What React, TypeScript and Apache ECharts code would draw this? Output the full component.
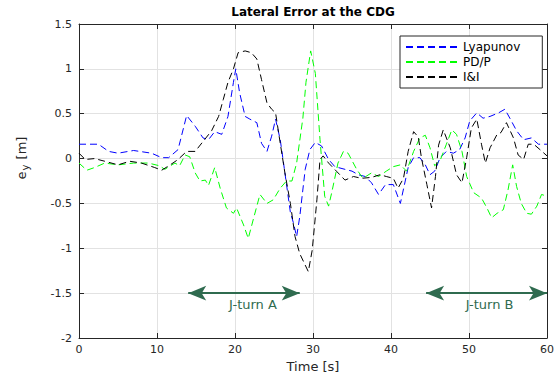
import React, { useEffect, useRef } from "react";
import * as echarts from "echarts";

// ---------- data ----------
const seriesNames = ["Lyapunov", "PD/P", "I&I"];

const lyapunovTime = [0, 1, 2.5, 3.8, 5, 7, 9.3, 10.6, 11.5, 12.7, 13.8, 14.9, 15.9, 16.6, 17.4, 18.3, 19.1, 19.8, 20.1, 20.6, 21.3, 21.9, 22.8, 23.4, 24.1, 24.7, 25.2, 25.8, 26.4, 27.1, 27.5, 27.9, 28.3, 29.0, 29.6, 30.3, 31.1, 32, 32.8, 34.1, 35, 35.8, 36.7, 37.5, 38.4, 39.3, 40.3, 41.2, 42.2, 42.9, 43.7, 44.4, 45, 45.6, 46.3, 47.1, 48, 48.8, 49.5, 50.1, 51, 51.8, 52.7, 53.8, 54.6, 55.3, 56.1, 57, 58, 58.9, 60];
const lyapunovValues = [0.16, 0.16, 0.16, 0.08, 0.06, 0.09, 0.06, 0.01, 0.01, 0.1, 0.48, 0.36, 0.23, 0.21, 0.3, 0.27, 0.47, 0.85, 1.0, 0.73, 0.47, 0.44, 0.40, 0.17, 0.08, 0.25, 0.44, 0.21, -0.16, -0.6, -0.72, -0.87, -0.65, -0.12, 0.1, 0.18, 0.14, -0.01, -0.09, -0.12, -0.14, -0.18, -0.2, -0.27, -0.40, -0.29, -0.29, -0.5, -0.1, 0.01, 0.01, -0.07, -0.18, -0.14, 0.01, 0.08, 0.06, 0.1, 0.23, 0.42, 0.51, 0.45, 0.47, 0.51, 0.55, 0.44, 0.31, 0.21, 0.23, 0.16, 0.16];

const pdpTime = [0, 1, 2, 3.3, 5, 7, 8.9, 10.3, 11, 12.3, 12.9, 13.6, 14.2, 14.9, 15.5, 16.2, 16.6, 17.4, 18.1, 18.9, 19.8, 20.2, 21.1, 21.7, 22.4, 23.2, 24.1, 24.9, 25.8, 26.6, 27.3, 27.9, 28.7, 29.1, 29.7, 30.3, 30.9, 31.5, 32, 32.4, 33.2, 33.9, 34.5, 35.6, 36.4, 37.5, 38.4, 39.4, 40.3, 41.2, 42, 42.9, 43.7, 44.4, 45, 45.6, 46.3, 47.1, 47.8, 48.4, 49.1, 49.7, 50.6, 51.6, 52.3, 52.9, 53.6, 54.4, 55, 55.6, 56.1, 56.7, 57.4, 58, 58.7, 59.3, 60];
const pdpValues = [-0.05, -0.13, -0.1, -0.05, -0.07, -0.05, -0.05, -0.08, -0.12, -0.05, -0.08, 0.04, 0.02, -0.16, -0.25, -0.24, -0.3, -0.1, -0.33, -0.55, -0.61, -0.55, -0.74, -0.89, -0.66, -0.4, -0.5, -0.46, -0.33, -0.25, -0.25, -0.05, 0.45, 0.85, 1.2, 0.95, 0.21, -0.42, -0.53, -0.38, -0.05, 0.08, 0.06, -0.12, -0.22, -0.16, -0.2, -0.14, -0.09, -0.07, -0.14, 0.08, 0.23, 0.26, 0.12, -0.08, -0.02, 0.16, 0.32, 0.27, 0.08, -0.2, -0.38, -0.44, -0.55, -0.66, -0.61, -0.57, -0.35, -0.07, -0.31, -0.5, -0.61, -0.62, -0.53, -0.4, -0.42];

const iiTime = [0, 0.8, 2, 3.3, 5, 6.5, 8, 9.7, 10.6, 11.7, 12.7, 13.8, 14.9, 15.9, 17, 17.9, 18.5, 19.1, 19.8, 20.4, 21.3, 22.1, 22.8, 23.4, 24.1, 24.7, 25.2, 25.8, 26.4, 27.1, 27.7, 28.3, 29.4, 29.9, 30.5, 30.9, 31.3, 32, 33, 34.1, 35.2, 36.2, 37.5, 38.6, 39.4, 40.3, 40.9, 41.6, 42.2, 42.9, 43.5, 43.9, 44.6, 45.2, 45.7, 46.1, 46.7, 47.6, 48.4, 49.1, 49.7, 50.3, 51, 51.6, 52.1, 52.7, 53.6, 54.1, 54.8, 55.7, 56.3, 57, 57.6, 58.3, 59.1, 60];
const iiValues = [0.06, -0.01, 0, -0.03, -0.07, -0.03, -0.05, -0.1, -0.13, -0.07, -0.01, 0.08, 0.08, 0.19, 0.31, 0.47, 0.66, 0.85, 1.0, 1.18, 1.2, 1.18, 1.11, 0.88, 0.62, 0.55, 0.51, 0.17, -0.16, -0.5, -0.87, -1.06, -1.26, -1.02, -0.46, -0.01, 0.03, -0.05, -0.14, -0.24, -0.2, -0.22, -0.21, -0.18, -0.2, -0.22, -0.33, -0.22, 0.08, 0.3, 0.24, 0.01, -0.29, -0.55, -0.2, 0.15, 0.32, 0.12, -0.18, -0.27, 0.01, 0.34, 0.44, 0.16, -0.05, 0.12, 0.27, 0.29, 0.4, 0.23, 0.04, -0.01, 0.16, 0.16, 0.1, 0.03];

const annotationLabels = ["J-turn A", "J-turn B"];
const annotationStart = [14.0, 44.5];
const annotationEnd = [28.3, 60];
const annotationLevel = -1.5;

// ---------- styles ----------
const FONT = "DejaVu Sans";
const AXIS = "#262626";
const GRID = "#e2e2e2";
const ARROW = "#2f6b4f";
const COLORS = ["#0000ff", "#00ff00", "#000000"];
const DASH = [7, 4];
const LABEL_SHIFT = [18, 6];

const pair = (t: number[], v: number[]) => t.map((x, i) => [x, v[i]]);

export default function App() {
  const ref = useRef<HTMLDivElement>(null);

  useEffect(() => {
    if (!ref.current) return;
    const chart = echarts.init(ref.current, null, { renderer: "svg" });

    const baseAxisLine = { show: true, onZero: false, lineStyle: { color: AXIS, width: 1 } };
    const baseTick = { show: true, inside: true, length: 5, lineStyle: { color: AXIS, width: 1 } };

    const lineSeries = [
      { name: seriesNames[0], t: lyapunovTime, v: lyapunovValues },
      { name: seriesNames[1], t: pdpTime, v: pdpValues },
      { name: seriesNames[2], t: iiTime, v: iiValues },
    ].map((s, i) => ({
      type: "line",
      name: s.name,
      data: pair(s.t, s.v),
      symbol: "none",
      showSymbol: false,
      smooth: false,
      color: COLORS[i],
      lineStyle: { color: COLORS[i], width: 1, type: DASH },
      z: 2 + i,
    }));

    const arrowSeries = {
      type: "line",
      name: "annotations",
      data: [],
      symbol: "none",
      silent: true,
      z: 10,
      markLine: {
        silent: true,
        symbol: ["arrow", "arrow"],
        symbolSize: [11, 18],
        lineStyle: { color: ARROW, width: 2, type: "solid" },
        label: {
          show: true,
          position: "insideMiddleBottom",
          distance: 5,
          formatter: "{b}",
          color: ARROW,
          fontSize: 13,
          fontFamily: FONT,
        },
        emphasis: { disabled: true },
        data: annotationLabels.map((name, i) => [
          {
            name,
            coord: [annotationStart[i], annotationLevel],
            label: { padding: [0, 0, 0, LABEL_SHIFT[i]] },
          },
          { coord: [annotationEnd[i], annotationLevel] },
        ]),
      },
    };

    chart.setOption({
      animation: false,
      backgroundColor: "#ffffff",
      grid: { left: 79, right: 12, top: 24, bottom: 42, containLabel: false },
      legend: {
        data: seriesNames,
        orient: "vertical",
        left: 400,
        top: 36,
        padding: [5, 22, 5, 5],
        itemGap: 3,
        itemWidth: 52,
        itemHeight: 10,
        backgroundColor: "#ffffff",
        borderColor: AXIS,
        borderWidth: 1,
        itemStyle: { opacity: 0, borderWidth: 0 },
        textStyle: { color: "#000", fontSize: 12, fontFamily: FONT, lineHeight: 12 },
        selectedMode: false,
      },
      xAxis: [
        {
          type: "value",
          position: "bottom",
          min: 0,
          max: 60,
          interval: 10,
          axisLine: baseAxisLine,
          axisTick: baseTick,
          axisLabel: { color: AXIS, fontSize: 11, fontFamily: FONT, margin: 6 },
          splitLine: { show: true, lineStyle: { color: GRID, width: 1 } },
          name: "Time [s]",
          nameLocation: "middle",
          nameGap: 22,
          nameTextStyle: { color: AXIS, fontSize: 13, fontFamily: FONT },
        },
        {
          type: "value",
          position: "top",
          min: 0,
          max: 60,
          interval: 10,
          axisLine: baseAxisLine,
          axisTick: baseTick,
          axisLabel: { show: false },
          splitLine: { show: false },
        },
      ],
      yAxis: [
        {
          type: "value",
          position: "left",
          min: -2,
          max: 1.5,
          interval: 0.5,
          axisLine: baseAxisLine,
          axisTick: baseTick,
          axisLabel: { color: AXIS, fontSize: 11, fontFamily: FONT, margin: 7 },
          splitLine: { show: true, lineStyle: { color: GRID, width: 1 } },
        },
        {
          type: "value",
          position: "right",
          min: -2,
          max: 1.5,
          interval: 0.5,
          axisLine: baseAxisLine,
          axisTick: baseTick,
          axisLabel: { show: false },
          splitLine: { show: false },
        },
      ],
      graphic: [
        {
          type: "text",
          x: 313,
          y: 12,
          silent: true,
          style: {
            text: "Lateral Error at the CDG",
            fontSize: 12,
            fontWeight: "bold",
            fontFamily: FONT,
            fill: "#000",
            align: "center",
            verticalAlign: "middle",
          },
        },
        {
          type: "text",
          x: 21,
          y: 158,
          rotation: Math.PI / 2,
          silent: true,
          style: {
            text: "e{sub|y} [m]",
            fontSize: 13,
            fontFamily: FONT,
            fill: AXIS,
            align: "center",
            verticalAlign: "middle",
            rich: {
              sub: { fontSize: 10, fontFamily: FONT, fill: AXIS, padding: [8, 1, 0, 1] },
            },
          },
        },
      ],
      series: [...lineSeries, arrowSeries],
    });

    return () => chart.dispose();
  }, []);

  return (
    <div
      ref={ref}
      style={{ position: "fixed", left: 0, top: 0, width: 559, height: 380, background: "#fff" }}
    />
  );
}
